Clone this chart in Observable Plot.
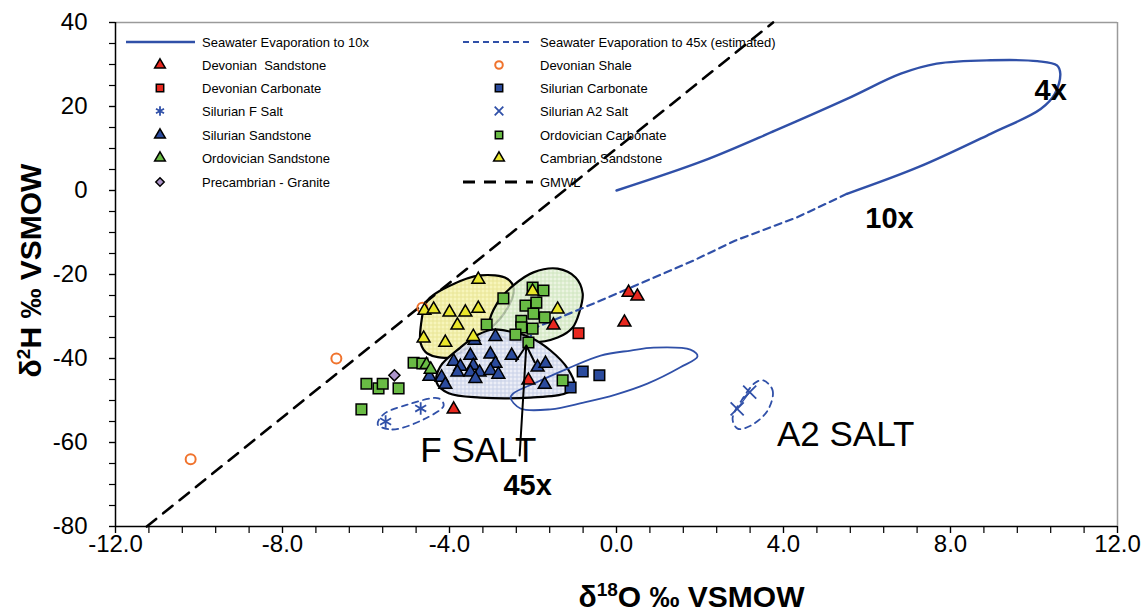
<!DOCTYPE html>
<html><head><meta charset="utf-8">
<script src="https://cdn.jsdelivr.net/npm/d3@7"></script>
<script src="https://cdn.jsdelivr.net/npm/@observablehq/plot@0.6"></script>
<style>
body{margin:0;background:#fff;}
#chart{width:1146px;height:612px;position:relative;}
</style></head><body>
<svg width="0" height="0" style="position:absolute">
<defs>
<pattern id="pY" width="4" height="4" patternUnits="userSpaceOnUse"><rect width="4" height="4" fill="#f6f4b4"/><path d="M0 0.5H4M0.5 0V4" stroke="#e6e28a" stroke-width="1"/></pattern>
<pattern id="pG" width="4" height="4" patternUnits="userSpaceOnUse"><rect width="4" height="4" fill="#e6f1da"/><path d="M0 0.5H4M0.5 0V4" stroke="#c3dfae" stroke-width="1"/></pattern>
<pattern id="pB" width="4" height="4" patternUnits="userSpaceOnUse"><rect width="4" height="4" fill="#eaedf6"/><path d="M0 0.5H4M0.5 0V4" stroke="#c3cce5" stroke-width="1"/></pattern>
</defs></svg>
<div id="chart"></div>
<script>
// ---------------- DATA ----------------
const xTickValues = [-12, -8, -4, 0, 4, 8, 12];
const xTickLabels = ["-12.0", "-8.0", "-4.0", "0.0", "4.0", "8.0", "12.0"];
const yTickValues = [-80, -60, -40, -20, 0, 20, 40];
const yTickLabels = ["-80", "-60", "-40", "-20", "0", "20", "40"];

const devonianSandstoneX = [-1.51, 0.29, 0.50, 0.19, -2.11, -3.90];
const devonianSandstoneY = [-32.1, -24.3, -25.2, -31.4, -45.2, -52.1];
const devonianShaleX = [-6.71, -10.2, -4.65];
const devonianShaleY = [-40.0, -64.0, -27.9];
const devonianCarbonateX = [-0.91];
const devonianCarbonateY = [-34.0];
const silurianCarbonateX = [-0.81, -0.41, -1.10];
const silurianCarbonateY = [-43.1, -44.0, -46.9];
const silurianFSaltX = [-5.53, -4.69];
const silurianFSaltY = [-55.0, -51.9];
const silurianA2SaltX = [2.89, 3.19];
const silurianA2SaltY = [-52.0, -48.0];
const silurianSandstoneX = [-2.90, -3.40, -3.50, -3.02, -2.51, -3.90, -3.74, -3.43, -2.90, -3.81, -3.50, -3.28, -3.02, -2.83, -3.38, -4.19, -4.10, -4.48, -1.89, -1.70, -1.72];
const silurianSandstoneY = [-34.8, -35.7, -39.3, -39.0, -39.3, -40.7, -41.9, -41.7, -41.2, -43.3, -43.3, -43.3, -42.9, -43.8, -44.8, -44.5, -46.2, -44.3, -42.1, -41.2, -46.2];
const ordovicianCarbonateX = [-2.71, -3.11, -2.01, -1.75, -1.92, -2.18, -1.99, -1.72, -2.28, -2.28, -2.01, -2.42, -2.11, -1.29, -4.86, -4.65, -5.99, -5.70, -5.60, -5.22, -6.11];
const ordovicianCarbonateY = [-25.7, -31.9, -23.1, -23.8, -26.7, -27.4, -29.3, -30.2, -31.0, -32.6, -32.9, -34.3, -36.2, -45.2, -41.0, -41.2, -46.0, -47.1, -46.0, -47.1, -52.1];
const ordovicianSandstoneX = [-4.55, -4.45];
const ordovicianSandstoneY = [-41.5, -42.6];
const cambrianSandstoneX = [-3.31, -4.60, -4.38, -4.00, -3.62, -3.31, -3.81, -4.62, -4.10, -3.43, -2.01, -1.41];
const cambrianSandstoneY = [-21.2, -28.6, -28.3, -29.0, -29.0, -28.1, -32.1, -35.2, -36.2, -34.8, -24.0, -28.3];
const precambrianGraniteX = [-5.32];
const precambrianGraniteY = [-44.0];

// GMWL end points
const gmwlX = [-11.25, 3.75];
const gmwlY = [-80, 40];

// seawater evaporation path (to 10x, solid) and its extension (to 45x, dashed)
const evap10X = [0, 2.09, 3.81, 5.52, 6.81, 7.67, 8.96, 10.08, 10.55, 10.63, 10.5, 10.16, 8.96, 7.24, 5.52];
const evap10Y = [0, 7.1, 14.3, 21.8, 27.8, 30.2, 31.0, 30.8, 29.8, 27.8, 23.0, 19.4, 13.5, 5.6, -0.8];
const evap45X = [5.52, 4.32, 2.85, 1.84, -0.38, -1.90, -2.15];
const evap45Y = [-0.8, -6.4, -11.9, -16.7, -26.2, -32.5, -36.0];

// closed blue solid loop
const loopX = [-2.54, -2.30, -1.58, -0.79, -0.02, 0.74, 1.53, 1.94, 1.77, 0.89, 0.34, -0.38, -1.17, -1.99, -2.47];
const loopY = [-49.3, -51.9, -52.1, -50.5, -48.6, -46.0, -42.1, -39.5, -37.9, -37.4, -38.1, -39.3, -42.4, -46.0, -48.3];

// dashed salt envelopes
const fSaltEnvX = [-5.72, -5.37, -4.62, -4.14, -4.26, -5.01, -5.58];
const fSaltEnvY = [-55.7, -56.9, -54.5, -51.2, -49.5, -51.0, -53.3];
const a2SaltEnvX = [3.52, 3.74, 3.62, 3.21, 2.90, 2.78, 3.04, 3.33];
const a2SaltEnvY = [-45.2, -47.6, -52.4, -56.0, -56.7, -54.3, -49.3, -45.7];

// sample group envelopes
const yellowEnvX = [-4.69, -4.53, -3.98, -3.26, -2.62, -2.46, -2.70, -3.26, -3.98, -4.53, -4.69];
const yellowEnvY = [-32.5, -26.2, -22.6, -20.2, -21.0, -23.4, -29.4, -34.9, -39.7, -38.8, -36.4];
const greenEnvX = [-3.04, -2.85, -2.47, -1.99, -1.41, -0.98, -0.81, -0.89, -1.05, -1.41, -2.06, -2.66];
const greenEnvY = [-32.1, -26.7, -22.6, -19.5, -18.6, -20.7, -24.5, -29.0, -32.6, -35.0, -36.2, -35.2];
const blueEnvX = [-2.95, -2.54, -2.06, -1.58, -1.17, -1.01, -1.22, -2.06, -3.26, -4.02, -4.31, -4.22, -3.74, -3.31];
const blueEnvY = [-33.1, -33.6, -35.0, -38.1, -42.4, -46.4, -48.3, -49.3, -49.3, -48.3, -45.7, -41.9, -37.4, -34.3];

// arrow from "45x" label
const arrowFrom = [-2.32, -63.1];
const arrowTo = [-2.16, -36.9];

// annotations
const annotText = ["4x", "10x", "F SALT", "45x", "A2 SALT"];
const annotX = [10.40, 6.54, -3.31, -2.13, 5.49];
const annotY = [23.8, -6.7, -61.9, -70.4, -58.1];
const annotBold = [true, true, false, true, false];

const legendLabels = [
  "Seawater Evaporation to 10x", "Seawater Evaporation to 45x (estimated)",
  "Devonian  Sandstone", "Devonian Shale",
  "Devonian Carbonate", "Silurian Carbonate",
  "Silurian F Salt", "Silurian A2 Salt",
  "Silurian Sandstone", "Ordovician Carbonate",
  "Ordovician Sandstone", "Cambrian Sandstone",
  "Precambrian - Granite", "GMWL"
];

// ---------------- STYLE ----------------
const FONT = "'Liberation Sans', Arial, Helvetica, sans-serif";
const RED = "#e8281f", BLUEF = "#2b4b9d", GREEN = "#69bb44", YELLOW = "#e9e62b", PURPLE = "#ad95ca", ORANGE = "#f0732d", LBLUE = "#3050a8";

const pts = (xs, ys) => xs.map((x, i) => ({x, y: ys[i]}));

const dotStyle = {x: "x", y: "y", stroke: "black", strokeWidth: 1.5};
const tri = (xs, ys, fill) => Plot.dot(pts(xs, ys), {...dotStyle, symbol: "triangle", r: 4.8, fill});
const sq = (xs, ys, fill) => Plot.dot(pts(xs, ys), {...dotStyle, symbol: "square", r: 6, fill});

const xMinor = d3.range(0, 31).map(i => -12 + i * 0.8);
const yMinor = d3.range(-80, 41, 5);

const chart = Plot.plot({
  width: 1146, height: 612,
  marginLeft: 115, marginRight: 29, marginTop: 22, marginBottom: 86,
  x: {domain: [-12, 12]},
  y: {domain: [-80, 40]},
  style: {fontFamily: FONT, background: "white", color: "black", overflow: "visible"},
  marks: [
    // frame top/right
    Plot.ruleY([40], {stroke: "#9a9a9a", strokeWidth: 1.5}),
    Plot.ruleX([12], {stroke: "#9a9a9a", strokeWidth: 1.5}),
    // envelopes
    Plot.line(pts(yellowEnvX, yellowEnvY), {x: "x", y: "y", curve: "catmull-rom-closed", fill: "url(#pY)", fillOpacity: 0.9, stroke: "black", strokeWidth: 2.2}),
    Plot.line(pts(greenEnvX, greenEnvY), {x: "x", y: "y", curve: "catmull-rom-closed", fill: "url(#pG)", fillOpacity: 0.8, stroke: "black", strokeWidth: 2.2}),
    Plot.line(pts(blueEnvX, blueEnvY), {x: "x", y: "y", curve: "catmull-rom-closed", fill: "url(#pB)", fillOpacity: 0.92, stroke: "black", strokeWidth: 2.2}),
    // GMWL
    Plot.line(pts(gmwlX, gmwlY), {x: "x", y: "y", stroke: "black", strokeWidth: 2.6, strokeDasharray: "12,9"}),
    // seawater evaporation
    Plot.line(pts(evap10X, evap10Y), {x: "x", y: "y", curve: "catmull-rom", stroke: LBLUE, strokeWidth: 2.4}),
    Plot.line(pts(evap45X, evap45Y), {x: "x", y: "y", stroke: LBLUE, strokeWidth: 2.2, strokeDasharray: "7,5"}),
    Plot.line(pts(loopX, loopY), {x: "x", y: "y", curve: "catmull-rom-closed", stroke: LBLUE, strokeWidth: 1.8}),
    Plot.line(pts(fSaltEnvX, fSaltEnvY), {x: "x", y: "y", curve: "catmull-rom-closed", stroke: LBLUE, strokeWidth: 1.8, strokeDasharray: "6,5"}),
    Plot.line(pts(a2SaltEnvX, a2SaltEnvY), {x: "x", y: "y", curve: "catmull-rom-closed", stroke: LBLUE, strokeWidth: 1.8, strokeDasharray: "6,5"}),
    Plot.line(pts(silurianA2SaltX, silurianA2SaltY), {x: "x", y: "y", stroke: LBLUE, strokeWidth: 1.2}),
    // axes
    Plot.axisY(yMinor, {tickSize: 6, tickFormat: () => "", label: null, strokeWidth: 1.2}),
    Plot.axisY(yTickValues, {tickSize: 6, tickPadding: 22, fontSize: 24, tickFormat: (d, i) => yTickLabels[i], label: null, strokeWidth: 1.2}),
    Plot.axisX(xMinor, {tickSize: 7, tickFormat: () => "", label: null, strokeWidth: 1.2}),
    Plot.axisX(xTickValues, {tickSize: 7, tickPadding: 1, fontSize: 24, tickFormat: (d, i) => xTickLabels[i], label: null, strokeWidth: 1.2}),
    Plot.ruleX([-12], {stroke: "black", strokeWidth: 1.5}),
    Plot.ruleY([-80], {stroke: "black", strokeWidth: 1.5}),
    // points
    Plot.dot(pts(devonianShaleX, devonianShaleY), {x: "x", y: "y", symbol: "circle", r: 5, fill: "none", stroke: ORANGE, strokeWidth: 2}),
    tri(devonianSandstoneX, devonianSandstoneY, RED),
    sq(devonianCarbonateX, devonianCarbonateY, RED),
    sq(silurianCarbonateX, silurianCarbonateY, BLUEF),
    Plot.dot(pts(silurianFSaltX, silurianFSaltY), {x: "x", y: "y", symbol: "asterisk", r: 6, stroke: LBLUE, strokeWidth: 1.8}),
    Plot.dot(pts(silurianA2SaltX, silurianA2SaltY), {x: "x", y: "y", symbol: "times", r: 6, stroke: LBLUE, strokeWidth: 1.8}),
    tri(silurianSandstoneX, silurianSandstoneY, BLUEF),
    sq(ordovicianCarbonateX, ordovicianCarbonateY, GREEN),
    tri(ordovicianSandstoneX, ordovicianSandstoneY, GREEN),
    tri(cambrianSandstoneX, cambrianSandstoneY, YELLOW),
    Plot.dot(pts(precambrianGraniteX, precambrianGraniteY), {...dotStyle, symbol: "diamond2", r: 5, fill: PURPLE}),
    // arrow
    Plot.arrow([{x1: arrowFrom[0], y1: arrowFrom[1], x2: arrowTo[0], y2: arrowTo[1]}], {x1: "x1", y1: "y1", x2: "x2", y2: "y2", stroke: "black", strokeWidth: 2, headLength: 14}),
    // annotations
    Plot.text(annotText.map((t, i) => ({t, x: annotX[i], y: annotY[i], b: annotBold[i]})).filter(d => d.b),
      {x: "x", y: "y", text: "t", fontSize: 29, fontWeight: "bold", textAnchor: "middle", lineAnchor: "middle", fill: "black"}),
    Plot.text(annotText.map((t, i) => ({t, x: annotX[i], y: annotY[i], b: annotBold[i]})).filter(d => !d.b),
      {x: "x", y: "y", text: "t", fontSize: 35, textAnchor: "middle", lineAnchor: "middle", fill: "black"}),
    // axis titles
    Plot.text(["δ18O ‰ VSMOW"], {frameAnchor: "bottom", dx: 75, dy: 71, fontSize: 30, fontWeight: "bold", textAnchor: "middle", lineAnchor: "middle", className: "ttl-x"}),
    Plot.text(["δ2H ‰ VSMOW"], {frameAnchor: "left", dx: -84, dy: -4, rotate: -90, fontSize: 30, fontWeight: "bold", textAnchor: "middle", lineAnchor: "middle", className: "ttl-y"})
  ]
});

document.getElementById("chart").appendChild(chart);
const svg = d3.select(chart);

// superscripts in axis titles
function supTitle(sel, pre, sup, post) {
  sel.each(function() {
    const t = d3.select(this);
    t.text(null);
    t.append("tspan").text(pre);
    t.append("tspan").attr("font-size", 19).attr("dy", -11).text(sup);
    t.append("tspan").attr("dy", 11).text(post);
  });
}
supTitle(svg.selectAll("g.ttl-x text"), "δ", "18", "O ‰ VSMOW");
supTitle(svg.selectAll("g.ttl-y text"), "δ", "2", "H ‰ VSMOW");

// ---------------- LEGEND ----------------
const legendStyle = [
  {kind: "line", stroke: LBLUE, width: 2.4},
  {kind: "line", stroke: LBLUE, width: 2.2, dash: "6,4"},
  {kind: "sym", type: d3.symbolTriangle, size: 50, fill: RED},
  {kind: "sym", type: d3.symbolCircle, size: 45, fill: "none", stroke: ORANGE, sw: 2},
  {kind: "sym", type: d3.symbolSquare, size: 55, fill: RED},
  {kind: "sym", type: d3.symbolSquare, size: 55, fill: BLUEF},
  {kind: "sym", type: d3.symbolAsterisk, size: 60, fill: "none", stroke: LBLUE, sw: 1.8},
  {kind: "sym", type: d3.symbolTimes, size: 50, fill: "none", stroke: LBLUE, sw: 1.8},
  {kind: "sym", type: d3.symbolTriangle, size: 50, fill: BLUEF},
  {kind: "sym", type: d3.symbolSquare, size: 55, fill: GREEN},
  {kind: "sym", type: d3.symbolTriangle, size: 50, fill: GREEN},
  {kind: "sym", type: d3.symbolTriangle, size: 50, fill: YELLOW},
  {kind: "sym", type: d3.symbolDiamond2, size: 45, fill: PURPLE},
  {kind: "line", stroke: "black", width: 2.8, dash: "12,9"}
];
const colLineX = [126, 463], colLineX2 = [195, 533], colSymX = [160, 499], colTextX = [202, 540];
const rowY = [42, 65, 88, 111, 135, 158, 182];
const lg = svg.append("g").attr("font-family", FONT).attr("font-size", 13).attr("text-anchor", "start");
legendLabels.forEach((label, i) => {
  const c = i % 2, r = Math.floor(i / 2), y = rowY[r], st = legendStyle[i];
  if (st.kind === "line") {
    lg.append("line").attr("x1", colLineX[c]).attr("x2", colLineX2[c]).attr("y1", y).attr("y2", y)
      .attr("stroke", st.stroke).attr("stroke-width", st.width).attr("stroke-dasharray", st.dash || null);
  } else {
    lg.append("path").attr("d", d3.symbol().type(st.type).size(st.size)())
      .attr("transform", `translate(${colSymX[c]},${y})`)
      .attr("fill", st.fill).attr("stroke", st.stroke || "black").attr("stroke-width", st.sw || 1.5);
  }
  lg.append("text").attr("x", colTextX[c]).attr("y", y).attr("dy", "0.35em")
    .attr("text-anchor", "start").style("white-space", "pre").attr("fill", "black").text(label);
});
</script>
</body></html>
